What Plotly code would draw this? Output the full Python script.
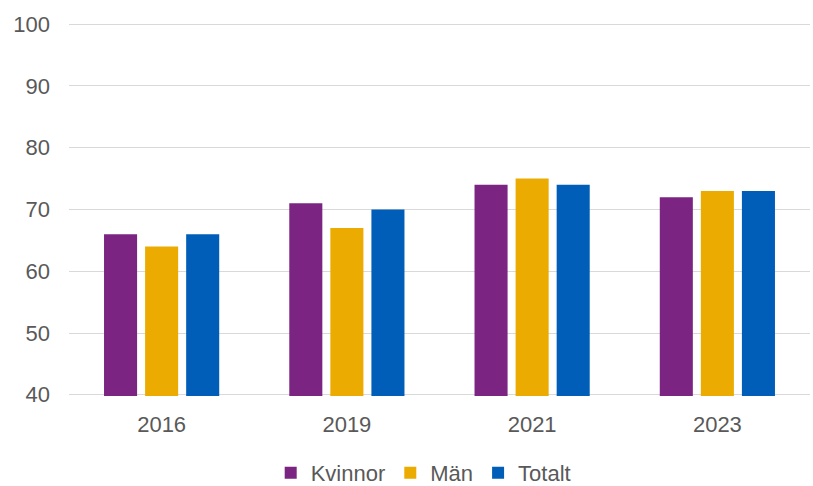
import plotly.graph_objects as go

years = ["2016", "2019", "2021", "2023"]
kvinnor = [66, 71, 74, 72]
man = [64, 67, 75, 73]
totalt = [66, 70, 74, 73]

series = [
    ("Kvinnor", kvinnor, "#7B2482"),
    ("Män", man, "#EBAB00"),
    ("Totalt", totalt, "#005EB8"),
]

fig = go.Figure()
for name, vals, color in series:
    fig.add_trace(go.Bar(x=years, y=vals, name=name, marker_color=color,
                         marker_line_width=0))

font = dict(family="Liberation Sans, Arial, sans-serif", size=22, color="#595959")
fig.update_layout(
    width=813, height=486, autosize=False,
    barmode="group", bargap=0.335, bargroupgap=0.195,
    plot_bgcolor="white", paper_bgcolor="white",
    font=font,
    margin=dict(l=69, r=3, t=23, b=90),
    yaxis=dict(range=[39.8, 100.2], tickvals=[40, 50, 60, 70, 80, 90, 100],
               showgrid=True, gridcolor="#D9D9D9", gridwidth=1.3, zeroline=False,
               ticks="", ticklabelstandoff=18, automargin=False, tickfont=font),
    xaxis=dict(showline=False, ticks="", ticklabelstandoff=13, automargin=False,
               tickfont=font),
    legend=dict(orientation="h", x=0.478, xanchor="center",
                yref="container", y=0.027, yanchor="middle",
                font=font, itemwidth=30, tracegroupgap=0),
)

# page has a default body margin; drop it so the figure sits at 0,0
fix_page = ("document.body.style.margin='0';"
            "document.body.style.overflow='hidden';")
fig.write_html("out.html", post_script=fix_page,
               config={"responsive": False, "displayModeBar": False})
